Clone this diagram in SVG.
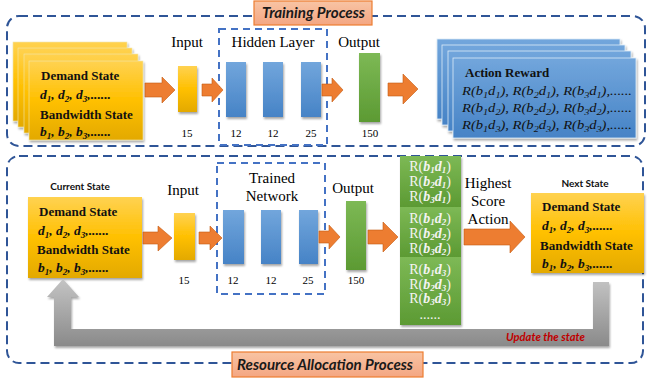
<svg xmlns="http://www.w3.org/2000/svg" width="647" height="381" viewBox="0 0 647 381">
<defs>
<linearGradient id="gY" x1="0" y1="0" x2="0" y2="1"><stop offset="0" stop-color="#FFD251"/><stop offset="0.5" stop-color="#FFC000"/><stop offset="1" stop-color="#E3A900"/></linearGradient>
<linearGradient id="gB" x1="0" y1="0" x2="0" y2="1"><stop offset="0" stop-color="#72A6DC"/><stop offset="1" stop-color="#4683C6"/></linearGradient>
<linearGradient id="gG" x1="0" y1="0" x2="0" y2="1"><stop offset="0" stop-color="#7DB955"/><stop offset="1" stop-color="#5C9A33"/></linearGradient>
<linearGradient id="gGr" x1="0" y1="0" x2="0" y2="1"><stop offset="0" stop-color="#C4C4C4"/><stop offset="1" stop-color="#8A8A8A"/></linearGradient>
<linearGradient id="gS" x1="0" y1="0" x2="0" y2="1"><stop offset="0" stop-color="#F8C4A4"/><stop offset="1" stop-color="#F4A682"/></linearGradient>
<filter id="sh" x="-10%" y="-10%" width="130%" height="130%"><feDropShadow dx="1" dy="2" stdDeviation="1.2" flood-color="#000" flood-opacity="0.35"/></filter>
</defs>
<style>
.outer{fill:none;stroke:#2F5597;stroke-width:2;stroke-dasharray:9 5}
.inner{fill:none;stroke:#4472C4;stroke-width:2;stroke-dasharray:7 5}
.yb{fill:url(#gY);stroke:#F2E6B0;stroke-width:0.6}
.bb{fill:url(#gB);stroke:#DDEBF7;stroke-width:0.8}
.bar{fill:url(#gB)}
.gbar{fill:url(#gG)}
.arr{fill:#ED7D31;stroke:#C55A11;stroke-width:0.6}
.lbl{fill:url(#gS);stroke:#ED7D31;stroke-width:1.2}
.lt{font-family:Lato,"Liberation Sans",sans-serif;font-weight:bold;font-style:italic;fill:#1a1a1a}
.sv{font-family:"Liberation Serif",serif;fill:#000}
.h{font-size:15px;text-anchor:middle}
.n{font-size:11px;text-anchor:middle}
.st{font-family:"Liberation Serif",serif;font-weight:bold;font-size:13px;fill:#111}
.mt{font-family:"Liberation Serif",serif;font-weight:bold;font-style:italic;font-size:13.5px;fill:#111}
.rt{font-family:"Liberation Serif",serif;font-style:italic;font-size:13px;fill:#111}
.gt{font-family:"Liberation Serif",serif;font-size:14px;fill:#F4F4F4;text-anchor:middle}
.sm{font-family:Lato,"Liberation Sans",sans-serif;font-weight:bold;font-size:10px;fill:#111;text-anchor:middle}
.bi{font-weight:bold;font-style:italic}
</style>

<g id="training-frame">
<rect class="outer" x="7" y="16" width="638" height="130" rx="12"/>
</g>
<g id="allocation-frame">
<rect class="outer" x="7" y="156" width="636" height="207" rx="12"/>
</g>

<g id="training-label">
<rect class="lbl" x="254" y="1" width="118" height="24"/>
<text class="lt" x="262" y="18" font-size="15" textLength="103" lengthAdjust="spacingAndGlyphs">Training Process</text>
</g>
<g id="allocation-label">
<rect class="lbl" x="232" y="352" width="191" height="25"/>
<text class="lt" x="237" y="370" font-size="15" textLength="176" lengthAdjust="spacingAndGlyphs">Resource Allocation Process</text>
</g>

<g id="train-state" filter="url(#sh)">
<rect class="yb" x="13" y="42" width="114" height="79"/>
<rect class="yb" x="18" y="48" width="114" height="79"/>
<rect class="yb" x="24" y="54" width="114" height="79"/>
<rect class="yb" x="29" y="61" width="114" height="79"/>
</g>
<g id="train-state-text">
<text class="st" x="41" y="80">Demand State</text>
<text class="mt" x="40" y="99">d<tspan font-size="9" dy="3">1</tspan><tspan dy="-3">, d</tspan><tspan font-size="9" dy="3">2</tspan><tspan dy="-3">, d</tspan><tspan font-size="9" dy="3">3</tspan><tspan dy="-3">,......</tspan></text>
<text class="st" x="40" y="119">Bandwidth State</text>
<text class="mt" x="40" y="136">b<tspan font-size="9" dy="3">1</tspan><tspan dy="-3">, b</tspan><tspan font-size="9" dy="3">2</tspan><tspan dy="-3">, b</tspan><tspan font-size="9" dy="3">3</tspan><tspan dy="-3">,......</tspan></text>
</g>

<g id="train-input">
<text class="sv h" x="187" y="47">Input</text>
<rect x="178" y="66" width="19" height="46" fill="url(#gY)" filter="url(#sh)"/>
<text class="sv n" x="187" y="137">15</text>
</g>
<g id="train-hidden">
<rect class="inner" x="219" y="29" width="108" height="116"/>
<text class="sv h" x="273" y="47">Hidden Layer</text>
<rect class="bar" x="226" y="62" width="20" height="55" filter="url(#sh)"/>
<rect class="bar" x="263" y="62" width="20" height="55" filter="url(#sh)"/>
<rect class="bar" x="301" y="62" width="20" height="55" filter="url(#sh)"/>
<text class="sv n" x="236" y="137">12</text>
<text class="sv n" x="273" y="137">12</text>
<text class="sv n" x="311" y="137">25</text>
</g>
<g id="train-output">
<text class="sv h" x="359" y="47">Output</text>
<rect class="gbar" x="359" y="53" width="21" height="69" filter="url(#sh)"/>
<text class="sv n" x="370" y="137">150</text>
</g>

<g id="train-reward" filter="url(#sh)">
<rect class="bb" x="437" y="39" width="183" height="80"/>
<rect class="bb" x="442" y="45" width="183" height="80"/>
<rect class="bb" x="448" y="51" width="183" height="80"/>
<rect class="bb" x="453" y="58" width="183" height="80"/>
</g>
<g id="train-reward-text">
<text class="st" x="465" y="77">Action Reward</text>
<text class="rt" x="462" y="95" textLength="170" lengthAdjust="spacingAndGlyphs">R(b<tspan font-size="9" dy="3">1</tspan><tspan dy="-3">d</tspan><tspan font-size="9" dy="3">1</tspan><tspan dy="-3">), R(b</tspan><tspan font-size="9" dy="3">2</tspan><tspan dy="-3">d</tspan><tspan font-size="9" dy="3">1</tspan><tspan dy="-3">), R(b</tspan><tspan font-size="9" dy="3">3</tspan><tspan dy="-3">d</tspan><tspan font-size="9" dy="3">1</tspan><tspan dy="-3">),......</tspan></text>
<text class="rt" x="462" y="112" textLength="170" lengthAdjust="spacingAndGlyphs">R(b<tspan font-size="9" dy="3">1</tspan><tspan dy="-3">d</tspan><tspan font-size="9" dy="3">2</tspan><tspan dy="-3">), R(b</tspan><tspan font-size="9" dy="3">2</tspan><tspan dy="-3">d</tspan><tspan font-size="9" dy="3">2</tspan><tspan dy="-3">), R(b</tspan><tspan font-size="9" dy="3">3</tspan><tspan dy="-3">d</tspan><tspan font-size="9" dy="3">2</tspan><tspan dy="-3">),......</tspan></text>
<text class="rt" x="462" y="129" textLength="170" lengthAdjust="spacingAndGlyphs">R(b<tspan font-size="9" dy="3">1</tspan><tspan dy="-3">d</tspan><tspan font-size="9" dy="3">3</tspan><tspan dy="-3">), R(b</tspan><tspan font-size="9" dy="3">2</tspan><tspan dy="-3">d</tspan><tspan font-size="9" dy="3">3</tspan><tspan dy="-3">), R(b</tspan><tspan font-size="9" dy="3">3</tspan><tspan dy="-3">d</tspan><tspan font-size="9" dy="3">3</tspan><tspan dy="-3">),......</tspan></text>
</g>

<g id="current-state">
<text class="sm" x="80" y="190">Current State</text>
<rect x="28" y="197" width="114" height="81" fill="url(#gY)" filter="url(#sh)"/>
<text class="st" x="39" y="216">Demand State</text>
<text class="mt" x="38" y="235">d<tspan font-size="9" dy="3">1</tspan><tspan dy="-3">, d</tspan><tspan font-size="9" dy="3">2</tspan><tspan dy="-3">, d</tspan><tspan font-size="9" dy="3">3</tspan><tspan dy="-3">,......</tspan></text>
<text class="st" x="37" y="254">Bandwidth State</text>
<text class="mt" x="38" y="272">b<tspan font-size="9" dy="3">1</tspan><tspan dy="-3">, b</tspan><tspan font-size="9" dy="3">2</tspan><tspan dy="-3">, b</tspan><tspan font-size="9" dy="3">3</tspan><tspan dy="-3">,......</tspan></text>
</g>

<g id="alloc-input">
<text class="sv h" x="183" y="195">Input</text>
<rect x="174" y="213" width="21" height="47" fill="url(#gY)" filter="url(#sh)"/>
<text class="sv n" x="184" y="284">15</text>
</g>
<g id="trained-network">
<rect class="inner" x="217" y="163" width="108" height="131"/>
<text class="sv h" x="272" y="183">Trained</text>
<text class="sv h" x="272" y="201">Network</text>
<rect class="bar" x="223" y="210" width="21" height="54" filter="url(#sh)"/>
<rect class="bar" x="261" y="210" width="20" height="54" filter="url(#sh)"/>
<rect class="bar" x="299" y="210" width="19" height="54" filter="url(#sh)"/>
<text class="sv n" x="233" y="284">12</text>
<text class="sv n" x="271" y="284">12</text>
<text class="sv n" x="308" y="284">25</text>
</g>
<g id="alloc-output">
<text class="sv h" x="353" y="193">Output</text>
<rect class="gbar" x="346" y="201" width="20" height="69" filter="url(#sh)"/>
<text class="sv n" x="356" y="284">150</text>
</g>

<g id="action-column">
<g filter="url(#sh)">
<rect x="400" y="156" width="61" height="169" fill="#6AA93F"/>
<rect class="gbar" x="400" y="156" width="61" height="51"/>
<rect class="gbar" x="400" y="207" width="61" height="50"/>
<rect class="gbar" x="400" y="257" width="61" height="68"/>
</g>
<text class="gt" x="430" y="171">R(<tspan class="bi">b</tspan><tspan class="bi" font-size="9" dy="2">1</tspan><tspan class="bi" dy="-2">d</tspan><tspan class="bi" font-size="9" dy="2">1</tspan><tspan dy="-2">)</tspan></text>
<text class="gt" x="430" y="186">R(<tspan class="bi">b</tspan><tspan class="bi" font-size="9" dy="2">2</tspan><tspan class="bi" dy="-2">d</tspan><tspan class="bi" font-size="9" dy="2">1</tspan><tspan dy="-2">)</tspan></text>
<text class="gt" x="430" y="201">R(<tspan class="bi">b</tspan><tspan class="bi" font-size="9" dy="2">3</tspan><tspan class="bi" dy="-2">d</tspan><tspan class="bi" font-size="9" dy="2">1</tspan><tspan dy="-2">)</tspan></text>
<text class="gt" x="430" y="223">R(<tspan class="bi">b</tspan><tspan class="bi" font-size="9" dy="2">1</tspan><tspan class="bi" dy="-2">d</tspan><tspan class="bi" font-size="9" dy="2">2</tspan><tspan dy="-2">)</tspan></text>
<text class="gt" x="430" y="238">R(<tspan class="bi">b</tspan><tspan class="bi" font-size="9" dy="2">2</tspan><tspan class="bi" dy="-2">d</tspan><tspan class="bi" font-size="9" dy="2">2</tspan><tspan dy="-2">)</tspan></text>
<text class="gt" x="430" y="253">R(<tspan class="bi">b</tspan><tspan class="bi" font-size="9" dy="2">3</tspan><tspan class="bi" dy="-2">d</tspan><tspan class="bi" font-size="9" dy="2">2</tspan><tspan dy="-2">)</tspan></text>
<text class="gt" x="430" y="274">R(<tspan class="bi">b</tspan><tspan class="bi" font-size="9" dy="2">1</tspan><tspan class="bi" dy="-2">d</tspan><tspan class="bi" font-size="9" dy="2">3</tspan><tspan dy="-2">)</tspan></text>
<text class="gt" x="430" y="289">R(<tspan class="bi">b</tspan><tspan class="bi" font-size="9" dy="2">2</tspan><tspan class="bi" dy="-2">d</tspan><tspan class="bi" font-size="9" dy="2">3</tspan><tspan dy="-2">)</tspan></text>
<text class="gt" x="430" y="303">R(<tspan class="bi">b</tspan><tspan class="bi" font-size="9" dy="2">3</tspan><tspan class="bi" dy="-2">d</tspan><tspan class="bi" font-size="9" dy="2">3</tspan><tspan dy="-2">)</tspan></text>
<text class="gt" x="430" y="319" font-size="8">......</text>
</g>

<g id="highest-label">
<text class="sv h" x="488" y="188">Highest</text>
<text class="sv h" x="488" y="206">Score</text>
<text class="sv h" x="488" y="224">Action</text>
</g>

<g id="next-state">
<text class="sm" x="585" y="187">Next State</text>
<rect x="531" y="193" width="113" height="80" fill="url(#gY)" filter="url(#sh)"/>
<text class="st" x="542" y="211">Demand State</text>
<text class="mt" x="542" y="230">d<tspan font-size="9" dy="3">1</tspan><tspan dy="-3">, d</tspan><tspan font-size="9" dy="3">2</tspan><tspan dy="-3">, d</tspan><tspan font-size="9" dy="3">3</tspan><tspan dy="-3">,......</tspan></text>
<text class="st" x="540" y="250">Bandwidth State</text>
<text class="mt" x="542" y="268">b<tspan font-size="9" dy="3">1</tspan><tspan dy="-3">, b</tspan><tspan font-size="9" dy="3">2</tspan><tspan dy="-3">, b</tspan><tspan font-size="9" dy="3">3</tspan><tspan dy="-3">,......</tspan></text>
</g>

<g id="connectors">
<polygon class="arr" points="145,83 162,83 162,77 175,90 162,103 162,97 145,97"/>
<polygon class="arr" points="202,84 212,84 212,78 223,90 212,102 212,96 202,96"/>
<polygon class="arr" points="322,84 332,84 332,78 343,90 332,102 332,96 322,96"/>
<polygon class="arr" points="388,83 403,83 403,74 418,89 403,104 403,96 388,96"/>
<polygon class="arr" points="143,232 158,232 158,226 172,238 158,251 158,244 143,244"/>
<polygon class="arr" points="199,232 210,232 210,226 222,238 210,250 210,244 199,244"/>
<polygon class="arr" points="319,231 329,231 329,225 340,237 329,249 329,243 319,243"/>
<polygon class="arr" points="368,230 383,230 383,222 398,237 383,252 383,244 368,244"/>
<polygon class="arr" points="464,229 510,229 510,221 525,237 510,253 510,245 464,245"/>
<polygon points="63,279 79,297 71,297 71,329 593,329 593,282 609,282 609,346 54,346 54,297 47,297" fill="url(#gGr)" filter="url(#sh)"/>
<text x="506" y="341" font-family="Lato,'Liberation Sans',sans-serif" font-weight="bold" font-style="italic" font-size="11" fill="#C00000" textLength="79" lengthAdjust="spacingAndGlyphs">Update the state</text>
</g>
</svg>
